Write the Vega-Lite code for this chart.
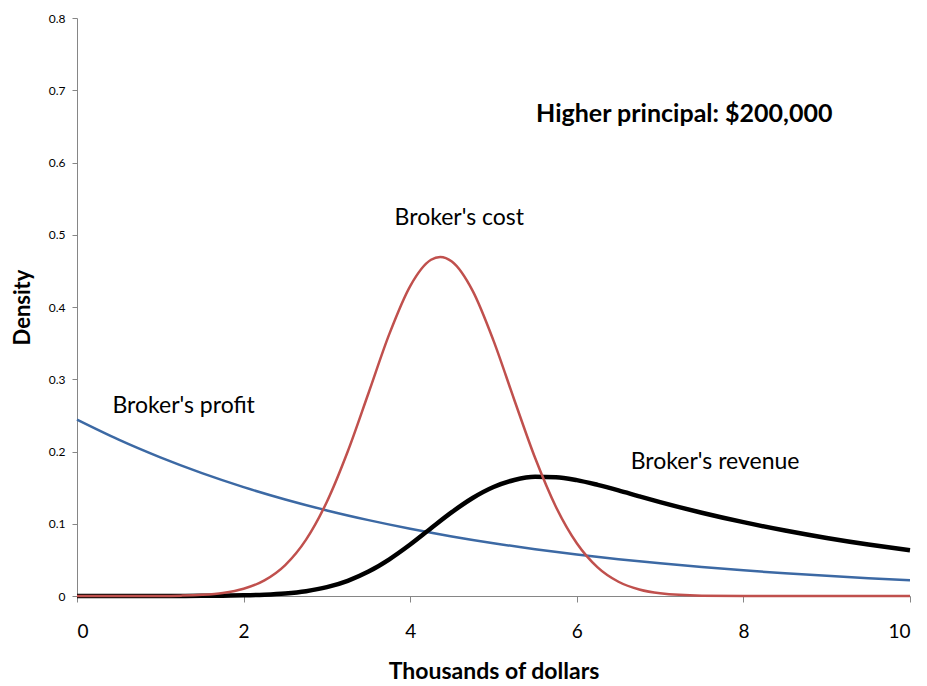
{
  "$schema": "https://vega.github.io/schema/vega-lite/v6.json",
  "width": 833,
  "height": 578,
  "autosize": {"type": "none"},
  "padding": {"left": 77, "top": 18, "right": 17, "bottom": 90},
  "background": "white",
  "config": {"view": {"stroke": null}, "font": "Lato"},
  "datasets": {
    "curves": [
      {"s": "profit", "x": 0, "y": 0.2440},
      {"s": "profit", "x": 0.5, "y": 0.2163},
      {"s": "profit", "x": 1, "y": 0.1918},
      {"s": "profit", "x": 1.5, "y": 0.1700},
      {"s": "profit", "x": 2, "y": 0.1507},
      {"s": "profit", "x": 2.5, "y": 0.1336},
      {"s": "profit", "x": 3, "y": 0.1184},
      {"s": "profit", "x": 3.5, "y": 0.1050},
      {"s": "profit", "x": 4, "y": 0.0931},
      {"s": "profit", "x": 4.5, "y": 0.0825},
      {"s": "profit", "x": 5, "y": 0.0731},
      {"s": "profit", "x": 5.5, "y": 0.0648},
      {"s": "profit", "x": 6, "y": 0.0575},
      {"s": "profit", "x": 6.5, "y": 0.0509},
      {"s": "profit", "x": 7, "y": 0.0452},
      {"s": "profit", "x": 7.5, "y": 0.0400},
      {"s": "profit", "x": 8, "y": 0.0355},
      {"s": "profit", "x": 8.5, "y": 0.0315},
      {"s": "profit", "x": 9, "y": 0.0279},
      {"s": "profit", "x": 9.5, "y": 0.0247},
      {"s": "profit", "x": 10, "y": 0.0219},

      {"s": "revenue", "x": 0, "y": 0},
      {"s": "revenue", "x": 0.5, "y": 0},
      {"s": "revenue", "x": 1, "y": 0},
      {"s": "revenue", "x": 1.5, "y": 0.0002},
      {"s": "revenue", "x": 1.75, "y": 0.0005},
      {"s": "revenue", "x": 2, "y": 0.0009},
      {"s": "revenue", "x": 2.25, "y": 0.0018},
      {"s": "revenue", "x": 2.5, "y": 0.0035},
      {"s": "revenue", "x": 2.75, "y": 0.0067},
      {"s": "revenue", "x": 3, "y": 0.0122},
      {"s": "revenue", "x": 3.25, "y": 0.0210},
      {"s": "revenue", "x": 3.5, "y": 0.0338},
      {"s": "revenue", "x": 3.75, "y": 0.0508},
      {"s": "revenue", "x": 4, "y": 0.0712},
      {"s": "revenue", "x": 4.25, "y": 0.0938},
      {"s": "revenue", "x": 4.5, "y": 0.1160},
      {"s": "revenue", "x": 4.75, "y": 0.1356},
      {"s": "revenue", "x": 5, "y": 0.1508},
      {"s": "revenue", "x": 5.25, "y": 0.1606},
      {"s": "revenue", "x": 5.5, "y": 0.1650},
      {"s": "revenue", "x": 5.75, "y": 0.1645},
      {"s": "revenue", "x": 6, "y": 0.1604},
      {"s": "revenue", "x": 6.25, "y": 0.1538},
      {"s": "revenue", "x": 6.5, "y": 0.1462},
      {"s": "revenue", "x": 6.75, "y": 0.1380},
      {"s": "revenue", "x": 7, "y": 0.1300},
      {"s": "revenue", "x": 7.5, "y": 0.1153},
      {"s": "revenue", "x": 8, "y": 0.1022},
      {"s": "revenue", "x": 8.5, "y": 0.0906},
      {"s": "revenue", "x": 9, "y": 0.0803},
      {"s": "revenue", "x": 9.5, "y": 0.0712},
      {"s": "revenue", "x": 10, "y": 0.0632},

      {"s": "cost", "x": 0, "y": 0},
      {"s": "cost", "x": 0.5, "y": 0},
      {"s": "cost", "x": 1, "y": 0.0001},
      {"s": "cost", "x": 1.25, "y": 0.0005},
      {"s": "cost", "x": 1.5, "y": 0.0016},
      {"s": "cost", "x": 1.75, "y": 0.0042},
      {"s": "cost", "x": 2, "y": 0.0100},
      {"s": "cost", "x": 2.25, "y": 0.0216},
      {"s": "cost", "x": 2.5, "y": 0.0428},
      {"s": "cost", "x": 2.75, "y": 0.0780},
      {"s": "cost", "x": 3, "y": 0.1305},
      {"s": "cost", "x": 3.25, "y": 0.2000},
      {"s": "cost", "x": 3.5, "y": 0.2810},
      {"s": "cost", "x": 3.75, "y": 0.3628},
      {"s": "cost", "x": 4, "y": 0.4290},
      {"s": "cost", "x": 4.25, "y": 0.4654},
      {"s": "cost", "x": 4.36, "y": 0.4693},
      {"s": "cost", "x": 4.5, "y": 0.4630},
      {"s": "cost", "x": 4.75, "y": 0.4224},
      {"s": "cost", "x": 5, "y": 0.3535},
      {"s": "cost", "x": 5.25, "y": 0.2713},
      {"s": "cost", "x": 5.5, "y": 0.1909},
      {"s": "cost", "x": 5.75, "y": 0.1232},
      {"s": "cost", "x": 6, "y": 0.0730},
      {"s": "cost", "x": 6.25, "y": 0.0396},
      {"s": "cost", "x": 6.5, "y": 0.0197},
      {"s": "cost", "x": 6.75, "y": 0.0090},
      {"s": "cost", "x": 7, "y": 0.0038},
      {"s": "cost", "x": 7.5, "y": 0.0005},
      {"s": "cost", "x": 8, "y": 0},
      {"s": "cost", "x": 9, "y": 0},
      {"s": "cost", "x": 10, "y": 0}
    ],
    "labels": [
      {"x": 4.59, "y": 0.523, "text": "Broker's cost", "kind": "curve"},
      {"x": 1.28, "y": 0.263, "text": "Broker's profit", "kind": "curve"},
      {"x": 7.66, "y": 0.185, "text": "Broker's revenue", "kind": "curve"},
      {"x": 7.29, "y": 0.667, "text": "Higher principal: $200,000", "kind": "heading"}
    ]
  },
  "encoding": {
    "x": {
      "field": "x", "type": "quantitative",
      "scale": {"domain": [0, 10], "nice": false, "zero": false},
      "axis": {
        "title": "Thousands of dollars",
        "values": [0, 2, 4, 6, 8, 10],
        "grid": false,
        "domainColor": "#868686",
        "tickColor": "#868686",
        "tickSize": 6,
        "labelFontSize": 19,
        "labelColor": "#000000",
        "labelPadding": 20,
        "titleFontSize": 23,
        "titleFontWeight": "bold",
        "titleColor": "#000000",
        "titlePadding": 19
      }
    },
    "y": {
      "field": "y", "type": "quantitative",
      "scale": {"domain": [0, 0.8], "nice": false},
      "axis": {
        "title": "Density",
        "values": [0, 0.1, 0.2, 0.3, 0.4, 0.5, 0.6, 0.7, 0.8],
        "format": ".1~f",
        "grid": false,
        "domainColor": "#868686",
        "tickColor": "#868686",
        "tickSize": 5,
        "labelFontSize": 12,
        "labelColor": "#000000",
        "labelPadding": 7,
        "titleFontSize": 22,
        "titleFontWeight": "bold",
        "titleColor": "#000000",
        "titlePadding": 14
      }
    }
  },
  "layer": [
    {
      "data": {"name": "curves"},
      "transform": [{"filter": "datum.s == 'profit'"}],
      "mark": {"type": "line", "color": "#3C69A4", "strokeWidth": 2.5, "interpolate": "monotone"}
    },
    {
      "data": {"name": "curves"},
      "transform": [{"filter": "datum.s == 'revenue'"}],
      "mark": {"type": "line", "color": "#000000", "strokeWidth": 4.5, "interpolate": "monotone"}
    },
    {
      "data": {"name": "curves"},
      "transform": [{"filter": "datum.s == 'cost'"}],
      "mark": {"type": "line", "color": "#C0504D", "strokeWidth": 2.5, "interpolate": "monotone"}
    },
    {
      "data": {"name": "labels"},
      "transform": [{"filter": "datum.kind == 'curve'"}],
      "mark": {"type": "text", "fontSize": 23, "align": "center", "baseline": "middle", "color": "#000000"},
      "encoding": {"text": {"field": "text"}}
    },
    {
      "data": {"name": "labels"},
      "transform": [{"filter": "datum.kind == 'heading'"}],
      "mark": {"type": "text", "fontSize": 25, "fontWeight": "bold", "align": "center", "baseline": "middle", "color": "#000000"},
      "encoding": {"text": {"field": "text"}}
    }
  ]
}
